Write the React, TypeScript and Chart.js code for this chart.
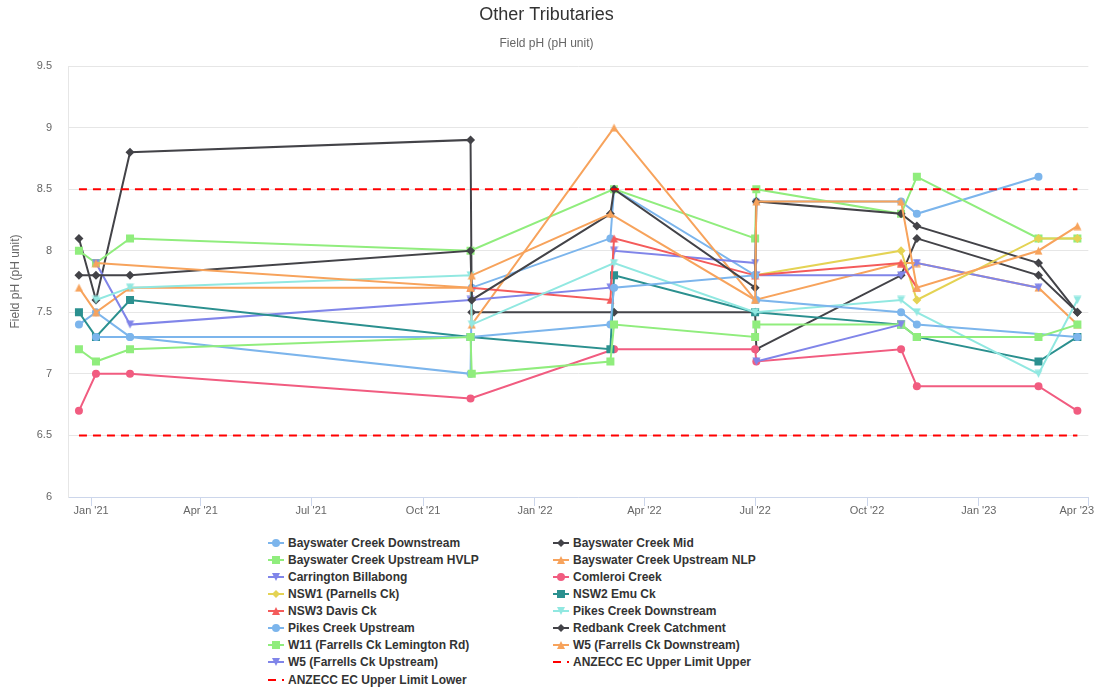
import React, { useEffect, useRef } from 'react';
import { Chart, registerables } from 'chart.js';

Chart.register(...registerables);

// Sample dates (columns) shared by all series
const sampleDates = [
  '2020-12-22', '2021-01-05', '2021-02-02', '2021-11-09', '2021-11-10',
  '2022-03-04', '2022-03-07', '2022-07-01', '2022-07-02', '2022-10-29',
  '2022-11-11', '2023-02-19', '2023-03-23',
];

// Field pH values per series, aligned to sampleDates (null = no sample)
const bayswaterDownstream = [7.4, 7.5, 7.3, 7.0, 7.7, 8.1, 8.5, 7.8, 8.4, 8.4, 8.3, 8.6, null];
const bayswaterMid = [8.1, 7.6, 8.8, 8.9, 7.5, null, 7.5, 7.5, 7.2, 7.8, 8.1, 7.8, 7.5];
const bayswaterUpstreamHVLP = [8.0, 7.9, 8.1, 8.0, null, null, 8.5, 8.1, 8.5, 8.3, 8.6, 8.1, 8.1];
const bayswaterUpstreamNLP = [7.7, 7.5, 7.7, 7.7, 7.4, null, 9.0, 7.6, null, 7.9, 7.9, 7.7, 7.4];
const carringtonBillabong = [null, 7.9, 7.4, 7.6, null, 7.7, 8.0, 7.9, 7.8, 7.8, 7.9, 7.7, null];
const comleroiCreek = [6.7, 7.0, 7.0, 6.8, null, null, 7.2, 7.2, 7.1, 7.2, 6.9, 6.9, 6.7];
const nsw1Parnells = [null, null, null, null, null, null, null, 7.8, null, 8.0, 7.6, 8.1, 8.1];
const nsw2Emu = [7.5, 7.3, 7.6, 7.3, null, 7.2, 7.8, 7.5, null, 7.4, 7.3, 7.1, 7.3];
const nsw3Davis = [null, null, null, 7.7, null, 7.6, 8.1, 7.8, null, 7.9, 7.7, null, null];
const pikesDownstream = [null, 7.6, 7.7, 7.8, 7.4, null, 7.9, 7.5, null, 7.6, 7.5, 7.0, 7.6];
const pikesUpstream = [null, 7.3, 7.3, 7.3, null, 7.4, 7.7, 7.8, 7.6, 7.5, 7.4, null, 7.3];
const redbankCatchment = [7.8, 7.8, 7.8, 8.0, 7.6, 8.3, 8.5, 7.7, 8.4, 8.3, 8.2, 7.9, 7.5];
const w11Lemington = [7.2, 7.1, 7.2, 7.3, 7.0, 7.1, 7.4, 7.3, 7.4, 7.4, 7.3, 7.3, 7.4];
const w5Downstream = [null, 7.9, null, 7.7, 7.8, 8.3, null, 7.6, 8.4, 8.4, 7.7, 8.0, 8.2];
const w5Upstream = [null, null, null, null, null, null, null, null, 7.1, 7.4, null, null, null];
const anzeccUpper = [8.5, null, null, null, null, null, null, null, null, null, null, null, 8.5];
const anzeccLower = [6.5, null, null, null, null, null, null, null, null, null, null, null, 6.5];

// Axis
const axisStartDate = '2020-12-13';
const axisEndDate = '2023-04-01';
const tickDates = [
  '2021-01-01', '2021-04-01', '2021-07-01', '2021-10-01', '2022-01-01',
  '2022-04-01', '2022-07-01', '2022-10-01', '2023-01-01', '2023-04-01',
];
const tickLabels = ["Jan '21", "Apr '21", "Jul '21", "Oct '21", "Jan '22", "Apr '22", "Jul '22", "Oct '22", "Jan '23", "Apr '23"];
const yTicks = [6, 6.5, 7, 7.5, 8, 8.5, 9, 9.5];

const seriesNames = [
  'Bayswater Creek Downstream', 'Bayswater Creek Mid', 'Bayswater Creek Upstream HVLP',
  'Bayswater Creek Upstream NLP', 'Carrington Billabong', 'Comleroi Creek',
  'NSW1 (Parnells Ck)', 'NSW2 Emu Ck', 'NSW3 Davis Ck', 'Pikes Creek Downstream',
  'Pikes Creek Upstream', 'Redbank Creek Catchment', 'W11 (Farrells Ck Lemington Rd)',
  'W5 (Farrells Ck Downstream)', 'W5 (Farrells Ck Upstream)',
  'ANZECC EC Upper Limit Upper', 'ANZECC EC Upper Limit Lower',
];
const seriesValues = [
  bayswaterDownstream, bayswaterMid, bayswaterUpstreamHVLP, bayswaterUpstreamNLP,
  carringtonBillabong, comleroiCreek, nsw1Parnells, nsw2Emu, nsw3Davis, pikesDownstream,
  pikesUpstream, redbankCatchment, w11Lemington, w5Downstream, w5Upstream, anzeccUpper, anzeccLower,
];

// Styles
const seriesColors = [
  '#7cb5ec', '#434348', '#90ed7d', '#f7a35c', '#8085e9', '#f15c80', '#e4d354', '#2b908f',
  '#f45b5b', '#91e8e1', '#7cb5ec', '#434348', '#90ed7d', '#f7a35c', '#8085e9', '#ff0000', '#ff0000',
];
const seriesMarkers = [
  'circle', 'diamond', 'square', 'triangle', 'triangle-down', 'circle', 'diamond', 'square',
  'triangle', 'triangle-down', 'circle', 'diamond', 'square', 'triangle', 'triangle-down', 'none', 'none',
];

const DAY = 86400000;
const toDay = (s: string) => {
  const [y, m, d] = s.split('-').map(Number);
  return (Date.UTC(y, m - 1, d) - Date.UTC(2021, 0, 1)) / DAY;
};

const FONT = '"Liberation Sans", Arial, Helvetica, sans-serif';

function makeTriangle(color: string, down: boolean) {
  const c = document.createElement('canvas');
  c.width = 9;
  c.height = 9;
  const g = c.getContext('2d')!;
  g.fillStyle = color;
  g.beginPath();
  if (down) {
    g.moveTo(0.5, 0.5);
    g.lineTo(8.5, 0.5);
    g.lineTo(4.5, 8.5);
  } else {
    g.moveTo(4.5, 0.5);
    g.lineTo(8.5, 8.5);
    g.lineTo(0.5, 8.5);
  }
  g.closePath();
  g.fill();
  return c;
}

function pointStyleFor(marker: string, color: string): any {
  switch (marker) {
    case 'circle': return { style: 'circle', radius: 4 };
    case 'diamond': return { style: 'rectRot', radius: 4.5 };
    case 'square': return { style: 'rect', radius: 5.66 };
    case 'triangle': return { style: makeTriangle(color, false), radius: 4 };
    case 'triangle-down': return { style: makeTriangle(color, true), radius: 4 };
    default: return { style: 'circle', radius: 0 };
  }
}

const xLabelPlugin = {
  id: 'xLabelPlugin',
  afterDraw(chart: any) {
    const sc = chart.scales.x;
    const ctx = chart.ctx;
    ctx.save();
    ctx.font = `11px ${FONT}`;
    ctx.fillStyle = '#666666';
    ctx.textAlign = 'center';
    ctx.textBaseline = 'middle';
    tickDates.forEach((d, i) => {
      const w = ctx.measureText(tickLabels[i]).width;
      let x = sc.getPixelForValue(toDay(d));
      x = Math.min(x, chart.width - w / 2);
      ctx.fillText(tickLabels[i], x, sc.top + 14);
    });
    ctx.restore();
  },
};

function LegendIcon({ marker, color, dashed }: { marker: string; color: string; dashed: boolean }) {
  let shape: any = null;
  if (marker === 'circle') shape = <circle cx={8} cy={6} r={4} fill={color} />;
  else if (marker === 'diamond') shape = <polygon points="8,2 12,6 8,10 4,6" fill={color} />;
  else if (marker === 'square') shape = <rect x={4} y={2} width={8} height={8} fill={color} />;
  else if (marker === 'triangle') shape = <polygon points="8,2 12,10 4,10" fill={color} />;
  else if (marker === 'triangle-down') shape = <polygon points="4,2 12,2 8,10" fill={color} />;
  return (
    <svg width={16} height={12} style={{ display: 'block', marginRight: 4, flex: '0 0 auto' }}>
      <line x1={0} y1={6} x2={16} y2={6} stroke={color} strokeWidth={2} strokeDasharray={dashed ? '8 6' : undefined} />
      {shape}
    </svg>
  );
}

export default function App() {
  const canvasRef = useRef<HTMLCanvasElement | null>(null);

  useEffect(() => {
    const canvas = canvasRef.current;
    if (!canvas) return;
    const days = sampleDates.map(toDay);
    const n = seriesNames.length;
    const datasets = seriesNames.map((name, i) => {
      const ps = pointStyleFor(seriesMarkers[i], seriesColors[i]);
      const isLimit = seriesMarkers[i] === 'none';
      const data = seriesValues[i]
        .map((v, j) => (v === null ? null : { x: days[j], y: v }))
        .filter((p) => p !== null);
      return {
        label: name,
        data,
        borderColor: seriesColors[i],
        backgroundColor: seriesColors[i],
        borderWidth: 2,
        borderDash: isLimit ? [8, 6] : [],
        pointStyle: ps.style,
        pointRadius: ps.radius,
        pointHoverRadius: ps.radius,
        pointBackgroundColor: seriesColors[i],
        pointBorderWidth: 0,
        tension: 0,
        fill: false,
        order: n - i,
      };
    });

    const chart = new Chart(canvas, {
      type: 'line',
      data: { datasets: datasets as any },
      plugins: [xLabelPlugin],
      options: {
        animation: false,
        responsive: false,
        events: [],
        layout: { padding: { left: 0, right: 1, top: 0, bottom: 0 } },
        plugins: {
          legend: { display: false },
          tooltip: { enabled: false },
          title: {
            display: true,
            text: 'Other Tributaries',
            color: '#333333',
            font: { family: FONT, size: 18, weight: 'normal' },
            padding: { top: 4, bottom: 7 },
          },
          subtitle: {
            display: true,
            text: 'Field pH (pH unit)',
            color: '#666666',
            font: { family: FONT, size: 12, weight: 'normal' },
            padding: { top: 4, bottom: 15 },
          },
        },
        scales: {
          x: {
            type: 'linear',
            min: toDay(axisStartDate),
            max: toDay(axisEndDate),
            afterBuildTicks: (scale: any) => {
              scale.ticks = tickDates.map((d) => ({ value: toDay(d) }));
            },
            afterFit: (scale: any) => {
              scale.height = 28;
              scale.paddingLeft = 0;
              scale.paddingRight = 0;
            },
            ticks: { display: false },
            grid: {
              display: true,
              drawOnChartArea: false,
              drawTicks: true,
              tickLength: 9,
              color: '#ccd6eb',
            },
            border: { display: true, color: '#ccd6eb', width: 1 },
          },
          y: {
            type: 'linear',
            min: 6,
            max: 9.5,
            afterBuildTicks: (scale: any) => {
              scale.ticks = yTicks.map((v) => ({ value: v }));
            },
            afterFit: (scale: any) => {
              scale.width = 68;
            },
            ticks: {
              color: '#666666',
              font: { family: FONT, size: 11 },
              padding: 16,
              callback: (v: any) => String(v),
            },
            grid: { color: '#e6e6e6', drawTicks: false, lineWidth: 1 },
            border: { display: true, color: '#e6e6e6' },
            title: {
              display: true,
              text: 'Field pH (pH unit)',
              color: '#666666',
              font: { family: FONT, size: 12, weight: 'normal' },
              padding: { top: 8, bottom: 0 },
            },
          },
        },
      },
    });
    return () => chart.destroy();
  }, []);

  return (
    <div style={{ position: 'absolute', left: 0, top: 0, width: 1094, height: 690, background: '#ffffff', overflow: 'hidden' }}>
      <canvas ref={canvasRef} width={1094} height={525} style={{ display: 'block', width: 1094, height: 525 }} />
      {seriesNames.map((name, i) => {
        const col = i % 2;
        const row = Math.floor(i / 2);
        return (
          <div
            key={name}
            style={{
              position: 'absolute',
              left: col === 0 ? 268 : 553,
              top: 542.7 + row * 17.1 - 8.5,
              height: 17,
              display: 'flex',
              alignItems: 'center',
              whiteSpace: 'nowrap',
              font: `bold 12px ${FONT}`,
              color: '#333333',
            }}
          >
            <LegendIcon marker={seriesMarkers[i]} color={seriesColors[i]} dashed={seriesMarkers[i] === 'none'} />
            <span>{name}</span>
          </div>
        );
      })}
    </div>
  );
}
